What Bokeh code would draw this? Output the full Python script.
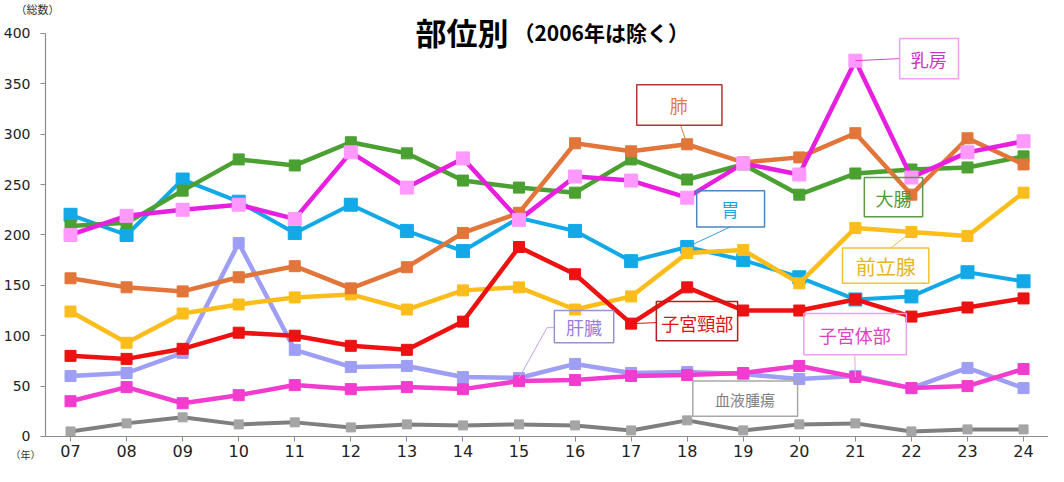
from bokeh.plotting import figure
from bokeh.models import Range1d, FixedTicker, BoxAnnotation, Label
from bokeh.embed import file_html
from bokeh.resources import INLINE

# ---- data ----
years = ["07", "08", "09", "10", "11", "12", "13", "14", "15",
         "16", "17", "18", "19", "20", "21", "22", "23", "24"]
daicho = [209, 212, 244, 275, 269, 292, 281, 254, 247, 242, 275, 255, 270, 240, 261, 265, 267, 278]
nyubo = [200, 219, 225, 230, 216, 282, 247, 276, 215, 258, 254, 237, 271, 260, 373, 257, 282, 293]
i_stomach = [220, 200, 255, 233, 202, 230, 204, 184, 217, 204, 174, 188, 175, 158, 136, 139, 163, 154]
hai = [157, 148, 144, 158, 169, 147, 168, 202, 222, 291, 283, 290, 272, 277, 301, 240, 296, 270]
zenritsusen = [124, 93, 122, 131, 138, 141, 126, 145, 148, 126, 139, 182, 185, 152, 207, 203, 199, 242]
keibu = [80, 77, 87, 103, 100, 90, 86, 114, 188, 161, 112, 148, 125, 125, 136, 119, 128, 137]
kanzo = [60, 63, 83, 192, 86, 69, 70, 59, 58, 72, 63, 64, 62, 57, 60, 48, 68, 48]
taibu = [35, 49, 33, 41, 51, 47, 49, 47, 55, 56, 60, 61, 63, 70, 59, 48, 50, 67]
ketsueki = [5, 13, 19, 12, 14, 9, 12, 11, 12, 11, 6, 16, 6, 12, 13, 5, 7, 7]
y_ticks = [0, 50, 100, 150, 200, 250, 300, 350, 400]

xs = list(range(len(years)))

p = figure(width=1048, height=466, output_backend="svg", toolbar_location=None,
           x_range=Range1d(-1.249, 17.445), y_range=Range1d(-29.8, 432.7),
           min_border_left=0, min_border_right=0, min_border_top=0, min_border_bottom=0)
p.xgrid.visible = False
p.ygrid.visible = False
p.outline_line_color = None
p.background_fill_color = "white"

axc = "#8c8c8c"
p.xaxis.ticker = FixedTicker(ticks=xs)
p.xaxis.major_label_overrides = {i: y for i, y in enumerate(years)}
p.xaxis.fixed_location = 0
p.xaxis.bounds = (-0.446, 17.445)
p.yaxis.ticker = FixedTicker(ticks=y_ticks)
p.yaxis.fixed_location = -0.446
p.yaxis.bounds = (0, 400)
for ax in (p.xaxis, p.yaxis):
    ax.axis_line_color = axc
    ax.axis_line_width = 1.2
    ax.major_tick_line_color = axc
    ax.major_tick_out = 5
    ax.major_tick_in = 0
    ax.minor_tick_line_color = None
    ax.major_label_text_font = "DejaVu Sans"
    ax.major_label_text_color = "#222222"
p.xaxis.major_label_text_font_size = "16px"
p.xaxis.major_label_standoff = 4
p.yaxis.major_label_text_font_size = "14px"
p.yaxis.major_label_standoff = 10

# series: (values, line colour, marker colour, marker size, line width)
series = [
    (ketsueki, "#7f7f7f", "#a5a5a5", 9, 4),
    (kanzo, "#9e9ef5", "#9e9ef5", 11, 4.5),
    (taibu, "#f23ccf", "#f23ccf", 11, 4.5),
    (i_stomach, "#12a9e6", "#12a9e6", 13, 4),
    (zenritsusen, "#fbbd1c", "#fbbd1c", 11, 4.5),
    (keibu, "#ec1212", "#ec1212", 11, 4.5),
    (daicho, "#4ba032", "#4ba032", 11, 4.5),
    (hai, "#e2763a", "#e2763a", 11, 4.5),
    (nyubo, "#e81ee0", "#ff99ff", 13, 4.5),
]
for vals, lc, mc, ms, lw in series:
    p.line(xs, vals, line_color=lc, line_width=lw)
    p.scatter(xs, vals, marker="square", size=ms, fill_color=mc, line_color=mc)

JP = "Noto Sans CJK JP"

# label boxes: text, box (left, right, bottom, top), text centre, size, text colour, border colour
boxes = [
    ("肺", (10.10, 11.62, 309, 349), (10.85, 329), "18px", "#e07b39", "#b83232"),
    ("乳房", (14.79, 15.84, 355, 395), (15.31, 375), "18px", "#cc33cc", "#f0a0f0"),
    ("胃", (11.17, 12.38, 208, 244), (11.77, 226), "18px", "#1ea7e1", "#4a86c0"),
    ("大腸", (14.16, 15.20, 218, 257), (14.68, 237), "18px", "#4f9a3a", "#5a9a48"),
    ("前立腺", (13.77, 15.31, 152, 187), (14.54, 169), "20px", "#e8b422", "#f2c230"),
    ("子宮頸部", (10.45, 11.90, 95, 134), (11.18, 113), "18px", "#e01010", "#b02020"),
    ("子宮体部", (13.08, 14.91, 81, 122), (13.99, 101), "18px", "#e040c8", "#f0a0f0"),
    ("肝臓", (8.63, 9.69, 93, 125), (9.16, 108.5), "18px", "#9a7fd8", "#9b90d0"),
    ("血液腫瘍", (11.10, 12.97, 20, 55), (12.03, 37), "15px", "#808080", "#a8a8a8"),
]
for text, (l, r, b, t), (tx, ty), fs, tc, bc in boxes:
    p.add_layout(BoxAnnotation(left=l, right=r, bottom=b, top=t, fill_alpha=0,
                               line_color=bc, line_width=1.5, line_alpha=1))
    p.add_layout(Label(x=tx, y=ty, text=text, text_align="center", text_baseline="middle",
                       text_font=JP, text_font_size=fs, text_color=tc))

# leader lines: (start x, start y, series, index, colour)
leaders = [
    ([10.88], [309], hai, 11, "#e07b39"),
    ([14.79], [375], nyubo, 14, "#e040d8"),
    ([11.77], [208], i_stomach, 11, "#3aa0d8"),
    ([14.63], [187], zenritsusen, 15, "#f2c230"),
    ([10.45], [113], keibu, 10, "#e01010"),
    ([13.99], [81], taibu, 14, "#f0a0f0"),
    ([8.63, 8.50], [108, 108], kanzo, 8, "#c8a0e8"),
]
for lx, ly, vals, idx, c in leaders:
    p.line(lx + [xs[idx]], ly + [vals[idx]], line_color=c, line_width=1)

# titles and corner notes
p.add_layout(Label(x=6.154, y=402, text="部位別", text_align="left", text_baseline="middle",
                   text_font=JP, text_font_size="31px", text_font_style="bold", text_color="#000000"))
p.add_layout(Label(x=7.90, y=401, text="（2006年は除く）", text_align="left", text_baseline="middle",
                   text_font=JP, text_font_size="21px", text_font_style="bold", text_color="#000000"))
p.add_layout(Label(x=-0.981, y=424, text="（総数）", text_align="left", text_baseline="middle",
                   text_font=JP, text_font_size="11px", text_color="#333333"))
p.add_layout(Label(x=-1.07, y=-18, text="（年）", text_align="left", text_baseline="middle",
                   text_font=JP, text_font_size="10px", text_color="#333333"))

open("out.html", "w").write(file_html(p, INLINE))
